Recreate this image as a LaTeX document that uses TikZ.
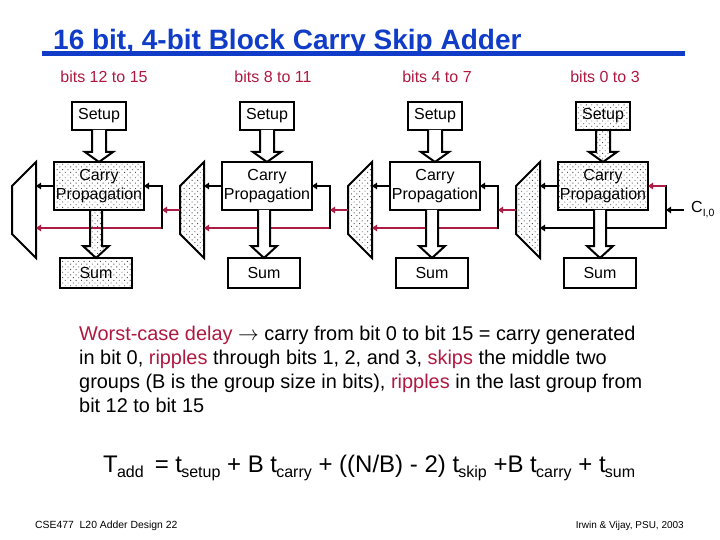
\documentclass[tikz,border=0pt]{standalone}
\usepackage{fontspec}
\setmainfont{Liberation Sans}
\usetikzlibrary{calc,arrows.meta,patterns}
\definecolor{titleblue}{RGB}{16,60,200}
\definecolor{wirered}{RGB}{172,28,68}
\definecolor{textred}{RGB}{176,24,64}
\pgfdeclarepatternformonly{sparsedots}{\pgfqpoint{-1pt}{-1pt}}{\pgfqpoint{6pt}{6pt}}{\pgfqpoint{5.4pt}{5.4pt}}{
  \pgfpathrectangle{\pgfqpoint{0pt}{0pt}}{\pgfqpoint{0.9pt}{0.9pt}}
  \pgfpathrectangle{\pgfqpoint{2.7pt}{2.7pt}}{\pgfqpoint{0.9pt}{0.9pt}}
  \pgfusepath{fill}
}
\newcommand{\fatarrow}[6]{% from, to, half shaft, half head, head length, fill
  \draw[fatshape,#6]
    ($(#1.south -| #2.north)+(-#3,0)$) -- ($(#2.north)+(-#3,-#5)$) -- ($(#2.north)+(-#4,-#5)$) --
    (#2.north) -- ($(#2.north)+(#4,-#5)$) -- ($(#2.north)+(#3,-#5)$) -- ($(#1.south -| #2.north)+(#3,0)$);
}
\newcommand{\lowtext}[1]{\kern-0.8pt\raisebox{-5pt}{\fontsize{16}{16}\selectfont #1}}
\tikzset{
  x=1pt,y=-1pt,
  dotfill/.style={pattern=sparsedots,pattern color=black!70},
  plainfill/.style={fill=white},
  block/.style={draw=black,line width=2pt,inner sep=0pt,outer sep=0pt,align=center,
    font=\fontsize{16}{19}\selectfont},
  fatshape/.style={draw=black,line width=2pt,line join=miter},
  muxshape/.style={draw=black,line width=2pt,line join=miter},
  wire/.style={draw=black,line width=2pt,-{Triangle[length=5pt,width=6.5pt]}},
  redwire/.style={draw=wirered,line width=2pt,-{Triangle[length=5pt,width=6.5pt]}},
  plainwire/.style={draw=black,line width=2pt},
  bitslabel/.style={text=textred,font=\fontsize{16}{19}\selectfont,inner sep=0pt},
}
\begin{document}
\begin{tikzpicture}
\useasboundingbox (0,0) rectangle (720,540);
\node[anchor=base west,inner sep=0pt,text=titleblue,font=\fontsize{28}{30}\selectfont\bfseries] (title) at (53,49.5) {16 bit, 4-bit Block Carry Skip Adder};
\fill[titleblue] (42,51) rectangle (685,56.5);

\node[bitslabel] (b1) at (104,77) {bits 12 to 15};
\node[bitslabel] (b2) at (273,77) {bits 8 to 11};
\node[bitslabel] (b3) at (437,77) {bits 4 to 7};
\node[bitslabel] (b4) at (605,77) {bits 0 to 3};

\foreach \i/\dx/\sf/\cf/\uf/\mf in {1/0/plainfill/dotfill/dotfill/plainfill,
   2/168/plainfill/plainfill/plainfill/dotfill,
   3/336/plainfill/plainfill/plainfill/dotfill,
   4/504/dotfill/dotfill/plainfill/dotfill}{
  \node[block,\sf,minimum width=54pt,minimum height=28pt] (s\i) at (99+\dx,116) {\raisebox{-1pt}{Setup}};
  \node[block,\cf,minimum width=90pt,minimum height=48pt] (c\i) at (99+\dx,186) {Carry\\Propagation};
  \node[block,\uf,minimum width=72pt,minimum height=30pt] (u\i) at (96+\dx,273) {\raisebox{-2pt}{Sum}};
  \draw[muxshape,\mf] (36+\dx,162) -- (12+\dx,186) -- (12+\dx,234) -- (36+\dx,258) -- cycle;
  \coordinate (mo\i) at (12+\dx,210);
  \coordinate (mt\i) at (36+\dx,186);
  \coordinate (mb\i) at (36+\dx,228);
  \coordinate (r\i) at (162+\dx,186);
  \coordinate (q\i) at (162+\dx,228);
  \coordinate (p\i) at (162+\dx,210);
}
\node[anchor=west,inner sep=0pt,font=\fontsize{16}{18}\selectfont] (cin) at (691,210) {C\raisebox{-4pt}{\fontsize{10.5}{10}\selectfont I,0}};
\coordinate (cinend) at (684,210);

% ripple and skip wiring
\foreach \i in {1,2,3,4}{
  \draw[wire] (c\i.west) -- (mt\i);
}
\foreach \i in {1,2,3}{
  \draw[redwire] (q\i) -- (mb\i);
  \draw[plainwire,line cap=rect] (q\i) -- (r\i);
  \draw[wire] (r\i) -- (c\i.east);
}
\draw[plainwire,line cap=rect] (q4) -- (r4);
\draw[wire] (q4) -- (mb4);
\draw[redwire] (r4) -- (c4.east);
\draw[wire] (cinend) -- (p4);
\draw[redwire] (mo2) -- (p1);
\draw[redwire] (mo3) -- (p2);
\draw[redwire] (mo4) -- (p3);

% fat arrows
\foreach \i/\sf/\uf in {1/plainfill/dotfill,2/plainfill/plainfill,3/plainfill/plainfill,4/dotfill/plainfill}{
  \fatarrow{s\i}{c\i}{7}{14}{10}{\sf}
  \fatarrow{c\i}{u\i}{6}{13}{12}{\uf}
}

\node[anchor=north west,inner sep=0pt,align=left,font=\fontsize{19.9}{24}\selectfont] (para) at (79,325.5) {%
  \textcolor{textred}{Worst-case delay} $\rightarrow$ carry from bit 0 to bit 15 = carry generated\\
  in bit 0, \textcolor{textred}{ripples} through bits 1, 2, and 3, \textcolor{textred}{skips} the middle two\\
  groups (B is the group size in bits), \textcolor{textred}{ripples} in the last group from\\
  bit 12 to bit 15};

\node[anchor=base west,inner sep=0pt,font=\fontsize{24}{28}\selectfont] (eq) at (103,472) {%
  T\lowtext{add}\hspace{11pt}= t\lowtext{setup} + B t\lowtext{carry} + ((N/B) - 2) t\lowtext{skip} +B t\lowtext{carry} + t\lowtext{sum}};

\node[anchor=base west,inner sep=0pt,font=\fontsize{10.4}{12}\selectfont] (foot1) at (35,528) {CSE477\ \ L20 Adder Design 22};
\node[anchor=base east,inner sep=0pt,font=\fontsize{10}{12}\selectfont] (foot2) at (684,528) {Irwin \& Vijay, PSU, 2003};
\end{tikzpicture}
\end{document}
